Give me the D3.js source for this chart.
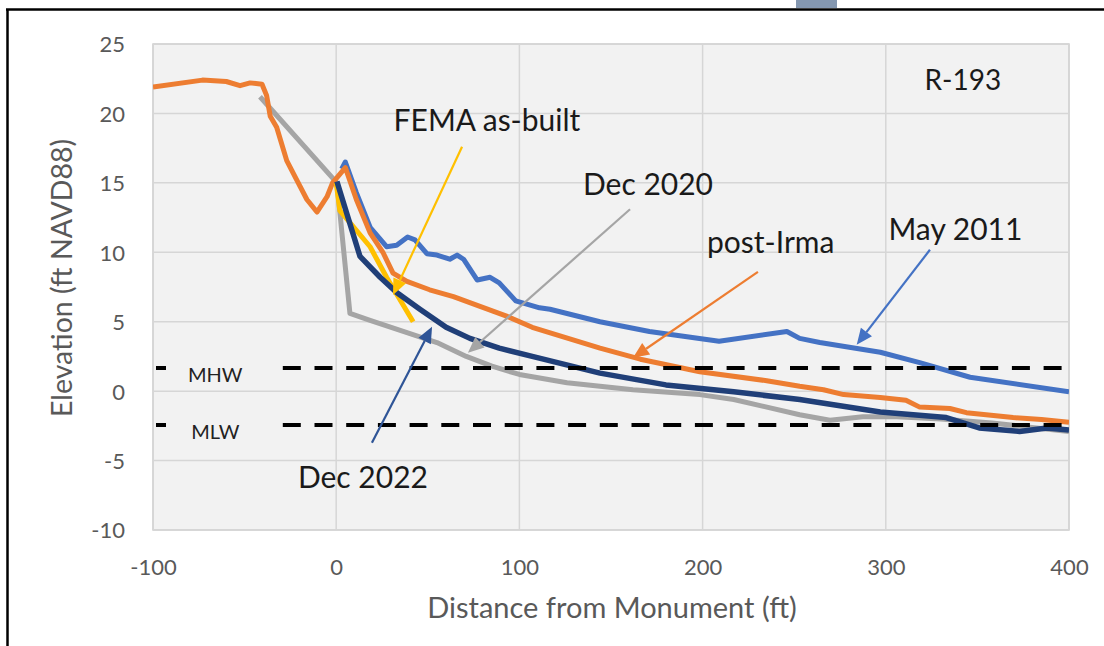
<!DOCTYPE html>
<html>
<head>
<meta charset="utf-8">
<script src="https://cdn.jsdelivr.net/npm/d3@7"></script>
<style>
  html, body { margin: 0; padding: 0; background: #ffffff; }
  svg { display: block; }
  text { font-family: Lato, "Open Sans", sans-serif; }
</style>
</head>
<body>
<svg id="chart" width="1104" height="646"></svg>
<script>
// ---------- data ----------
const xTicks = [-100, 0, 100, 200, 300, 400];
const yTicks = [-10, -5, 0, 5, 10, 15, 20, 25];

const mayX = [3, 5, 11, 18.5, 27.5, 33, 39, 43, 49.5, 55, 62, 66, 69.5, 77, 84, 89, 98, 111, 116.7, 144, 171, 209, 246, 253, 264, 297, 318.5, 346, 400];
const mayY = [16.0, 16.5, 14.3, 11.8, 10.4, 10.5, 11.1, 10.9, 9.9, 9.8, 9.5, 9.8, 9.5, 8.0, 8.2, 7.8, 6.5, 6.0, 5.9, 5.0, 4.3, 3.6, 4.3, 3.8, 3.5, 2.8, 2.05, 1.0, -0.05];

const irmaX = [-100, -73, -60, -52.5, -47, -40.5, -38, -36, -32.5, -27, -21.5, -16, -10.5, -5, -2, 5, 11, 18.5, 25.5, 31, 38.6, 51, 64, 78.5, 93, 107, 144, 166, 198.5, 235, 253, 266, 277, 297, 311, 318.5, 335, 344, 369.5, 385, 400];
const irmaY = [21.9, 22.4, 22.3, 22.0, 22.2, 22.1, 21.3, 19.8, 19.0, 16.6, 15.2, 13.8, 12.9, 14.0, 15.0, 16.1, 13.8, 11.4, 10.0, 8.5, 7.9, 7.3, 6.8, 6.1, 5.4, 4.6, 3.1, 2.3, 1.4, 0.75, 0.35, 0.1, -0.25, -0.45, -0.65, -1.15, -1.25, -1.55, -1.9, -2.05, -2.25];

const femaX = [0, 2, 18.5, 27.5, 42];
const femaY = [15.0, 13.0, 10.4, 8.2, 5.0];

const dec2020X = [-41.6, 0.4, 7.5, 18.5, 36.6, 55, 71, 85, 100, 126, 162, 198.5, 217, 253, 269.5, 287.5, 306, 330, 358, 400];
const dec2020Y = [21.2, 15.0, 5.6, 5.1, 4.3, 3.5, 2.5, 1.8, 1.2, 0.6, 0.1, -0.25, -0.6, -1.7, -2.1, -1.85, -1.85, -2.0, -2.3, -2.9];

const dec2022X = [0.4, 13, 24, 33, 45.7, 60, 73, 89, 107, 144, 180, 217, 253, 297, 333, 351, 373, 388, 400];
const dec2022Y = [15.1, 9.7, 8.2, 7.1, 5.9, 4.6, 3.8, 3.1, 2.5, 1.3, 0.45, -0.05, -0.6, -1.5, -1.9, -2.65, -2.9, -2.65, -2.8];

const tideNames = ["MHW", "MLW"];
const tideLevels = [1.66, -2.43];

const seriesNames = ["Dec 2020", "May 2011", "post-Irma", "FEMA as-built", "Dec 2022"];
const seriesColors = ["#a5a5a5", "#4472c4", "#ed7d31", "#ffc000", "#203f78"];

// annotation labels with arrows (in data units)
const notes = [
  { text: "FEMA as-built", tx: 82.3, ty: 18.75, x1: 68.7, y1: 17.6, x2: 31.0, y2: 6.93, color: "#ffc000" },
  { text: "Dec 2020",      tx: 170.2, ty: 14.14, x1: 160.4, y1: 13.1, x2: 71.9, y2: 2.76, color: "#a5a5a5" },
  { text: "post-Irma",     tx: 237.2, ty: 9.96, x1: 230.2, y1: 8.59, x2: 162.0, y2: 2.4, color: "#ed7d31" },
  { text: "May 2011",      tx: 338.0, ty: 10.9, x1: 324.1, y1: 10.18, x2: 284.1, y2: 3.34, color: "#4472c4" },
  { text: "Dec 2022",      tx: 14.6, ty: -6.96, x1: 19.5, y1: -3.72, x2: 52.3, y2: 4.63, color: "#2f5597" }
];

// ---------- layout ----------
const svg = d3.select("#chart");
const L = 153, R = 1069, T = 44, B = 530;
const x = d3.scaleLinear().domain([-100, 400]).range([L, R]);
const y = d3.scaleLinear().domain([-10, 25]).range([B, T]);
const fmt = d => String(d); // hyphen-minus like the original

// frame decorations
svg.append("rect").attr("x", 796).attr("y", 0).attr("width", 41).attr("height", 8).attr("fill", "#8497b0");
svg.append("line").attr("x1", 6).attr("x2", 1104).attr("y1", 9.5).attr("y2", 9.5).attr("stroke", "#000").attr("stroke-width", 2.5);
svg.append("line").attr("x1", 7.5).attr("x2", 7.5).attr("y1", 9).attr("y2", 646).attr("stroke", "#000").attr("stroke-width", 2.5);

// plot area
svg.append("rect").attr("x", L).attr("y", T).attr("width", R - L).attr("height", B - T)
  .attr("fill", "#f2f2f2").attr("stroke", "#cfcfcf").attr("stroke-width", 1.5);

// grid
const grid = svg.append("g");
grid.selectAll("line.v").data(xTicks).join("line")
  .attr("x1", d => x(d)).attr("x2", d => x(d)).attr("y1", T).attr("y2", B)
  .attr("stroke", "#d6d6d6").attr("stroke-width", 1.5);
grid.selectAll("line.h").data(yTicks).join("line")
  .attr("x1", L).attr("x2", R).attr("y1", d => y(d)).attr("y2", d => y(d))
  .attr("stroke", "#d6d6d6").attr("stroke-width", 1.5);

// axes (labels only)
const xAxis = d3.axisBottom(x).tickValues(xTicks).tickFormat(fmt).tickSize(0).tickPadding(0);
const gx = svg.append("g").attr("transform", `translate(0,${B})`).call(xAxis);
gx.select(".domain").remove();
gx.selectAll("text").attr("font-size", 22).attr("fill", "#595959")
  .attr("dy", null).attr("y", 45).style("font-family", "Lato, sans-serif");

const yAxis = d3.axisLeft(y).tickValues(yTicks).tickFormat(fmt).tickSize(0).tickPadding(0);
const gy = svg.append("g").attr("transform", `translate(${L},0)`).call(yAxis);
gy.select(".domain").remove();
gy.selectAll("text").attr("font-size", 22).attr("fill", "#595959")
  .attr("x", -28).attr("dy", "0.36em").style("font-family", "Lato, sans-serif");

svg.append("text").attr("x", 612).attr("y", 618).attr("text-anchor", "middle")
  .attr("font-size", 29).attr("fill", "#595959").text("Distance from Monument (ft)");
svg.append("text").attr("transform", "translate(72,278) rotate(-90)").attr("text-anchor", "middle")
  .attr("font-size", 28.5).attr("fill", "#595959").text("Elevation (ft NAVD88)");

// series
const series = [
  { xs: dec2020X, ys: dec2020Y },
  { xs: mayX, ys: mayY },
  { xs: irmaX, ys: irmaY },
  { xs: femaX, ys: femaY },
  { xs: dec2022X, ys: dec2022Y }
];
const line = d3.line().x(d => x(d[0])).y(d => y(d[1]));
svg.append("clipPath").attr("id", "pc").append("rect")
  .attr("x", L).attr("y", T).attr("width", R - L).attr("height", B - T);
const gl = svg.append("g").attr("clip-path", "url(#pc)");
series.forEach((s, i) => {
  gl.append("path").datum(d3.zip(s.xs, s.ys)).attr("d", line)
    .attr("fill", "none").attr("stroke", seriesColors[i])
    .attr("stroke-width", i === 4 ? 5.5 : 5).attr("stroke-linejoin", "round").attr("stroke-linecap", "butt")
    .attr("data-name", seriesNames[i]);
});

// tide lines
svg.selectAll("line.tide").data(tideLevels).join("line")
  .attr("x1", L + 3).attr("x2", R).attr("y1", d => y(d)).attr("y2", d => y(d))
  .attr("stroke", "#000").attr("stroke-width", 4).attr("stroke-dasharray", "18,13.7");
svg.selectAll("rect.tide").data(tideLevels).join("rect")
  .attr("x", 166).attr("width", 104).attr("y", d => y(d) - 10).attr("height", 28)
  .attr("fill", "#f2f2f2");
svg.selectAll("text.tide").data(tideNames).join("text")
  .attr("x", x(-66)).attr("y", (d, i) => y(tideLevels[i]) + 14).attr("text-anchor", "middle")
  .attr("font-size", 20).attr("fill", "#222").text(d => d);

// annotations
notes.forEach(n => {
  const X1 = x(n.x1), Y1 = y(n.y1), X2 = x(n.x2), Y2 = y(n.y2);
  const ang = Math.atan2(Y2 - Y1, X2 - X1);
  const hl = 16, hw = 7;
  const bx = X2 - hl * Math.cos(ang), by = Y2 - hl * Math.sin(ang);
  svg.append("line").attr("x1", X1).attr("y1", Y1).attr("x2", bx).attr("y2", by)
    .attr("stroke", n.color).attr("stroke-width", 2.2);
  const p = [
    [X2, Y2],
    [bx + hw * Math.sin(ang), by - hw * Math.cos(ang)],
    [bx - hw * Math.sin(ang), by + hw * Math.cos(ang)]
  ];
  svg.append("polygon").attr("points", p.map(q => q.join(",")).join(" ")).attr("fill", n.color);
  svg.append("text").attr("x", x(n.tx)).attr("y", y(n.ty)).attr("text-anchor", "middle")
    .attr("font-size", 30).attr("fill", "#1a1a1a").text(n.text);
});

svg.append("text").attr("x", x(342.1)).attr("y", y(21.7)).attr("text-anchor", "middle")
  .attr("font-size", 28).attr("fill", "#1a1a1a").text("R-193");
</script>
</body>
</html>
